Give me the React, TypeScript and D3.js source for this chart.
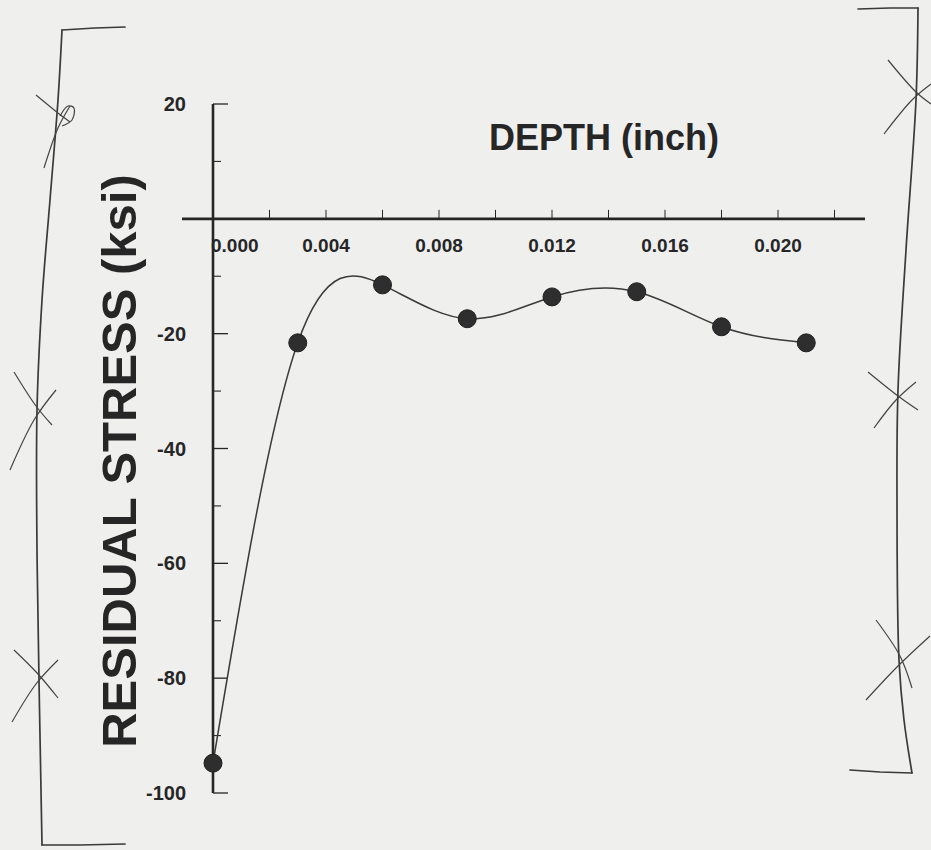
import React from 'react';
import * as d3 from 'd3';

// ---- data ----
const depths = [0.0, 0.003, 0.006, 0.009, 0.012, 0.015, 0.018, 0.021];
const stresses = [-94.8, -21.6, -11.5, -17.4, -13.6, -12.7, -18.8, -21.6];
const xTickValues = [0.0, 0.004, 0.008, 0.012, 0.016, 0.02];
const xTickLabels = ['0.000', '0.004', '0.008', '0.012', '0.016', '0.020'];
const xMinorTickValues = [0.002, 0.004, 0.006, 0.008, 0.01, 0.012, 0.014, 0.016, 0.018, 0.02, 0.022];
const yTickValues = [20, -20, -40, -60, -80, -100];
const yTickLabels = ['20', '-20', '-40', '-60', '-80', '-100'];
const yMinorTickValues = [10, -10, -30, -50, -70, -90];
const xTitle = 'DEPTH (inch)';
const yTitle = 'RESIDUAL STRESS (ksi)';

const W = 931;
const H = 850;
const ink = '#262626';
const font = '"Liberation Sans", Arial, Helvetica, sans-serif';

// hand-drawn bracket decorations (annotation, not data)
const leftBracketTop: [number, number][] = [[125, 27], [95, 28], [62, 30]];
const leftBracketSide: [number, number][] = [[62, 30], [58, 100], [50, 200], [42, 300], [37, 410], [37, 550], [39, 680], [41, 790], [42, 845]];
const leftBracketBottom: [number, number][] = [[42, 845], [80, 845], [125, 844]];
const rightBracketTop: [number, number][] = [[858, 9], [890, 8], [918, 8]];
const rightBracketSide: [number, number][] = [[918, 8], [916, 100], [906, 250], [898, 390], [897, 500], [899, 660], [904, 720], [912, 773]];
const rightBracketBottom: [number, number][] = [[912, 773], [880, 772], [850, 770]];
const crossStrokes: [number, number][][] = [
  [[36, 95], [58, 113], [70, 122]],
  [[44, 168], [58, 128], [70, 106]],
  [[60, 116], [68, 106], [74, 108], [72, 120], [62, 126]],
  [[14, 372], [36, 406], [52, 425]],
  [[10, 470], [34, 420], [56, 390]],
  [[14, 650], [38, 674], [58, 698]],
  [[12, 722], [36, 684], [58, 660]],
  [[888, 60], [916, 92], [931, 104]],
  [[884, 134], [912, 100], [931, 84]],
  [[868, 372], [898, 396], [918, 410]],
  [[874, 428], [896, 400], [916, 382]],
  [[876, 620], [900, 656], [912, 688]],
  [[866, 700], [898, 666], [930, 636]],
];

export default function App() {
  const x = d3.scaleLinear().domain([0, 0.02]).range([213, 778]);
  const y = d3.scaleLinear().domain([-100, 20]).range([793, 104]);

  const pts: [number, number][] = depths.map((d, i) => [x(d), y(stresses[i])]);
  const curve = d3.line().curve(d3.curveNatural)(pts) || '';
  const hand = d3.line().curve(d3.curveCatmullRom.alpha(0.5));
  const straight = d3.line();

  const x0 = x(0);
  const yAxisY0 = y(0);

  const bracketPaths = [
    straight(leftBracketTop),
    hand(leftBracketSide),
    straight(leftBracketBottom),
    straight(rightBracketTop),
    hand(rightBracketSide),
    straight(rightBracketBottom),
  ];

  return (
    <svg
      width={W}
      height={H}
      viewBox={`0 0 ${W} ${H}`}
      style={{ position: 'absolute', left: 0, top: 0, display: 'block' }}
    >
      <rect x={0} y={0} width={W} height={H} fill="#efefee" />

      {/* brackets */}
      {bracketPaths.map((d, i) => (
        <path key={i} d={d || ''} fill="none" stroke="#3a3a3a" strokeWidth={1.7} strokeLinecap="round" />
      ))}
      {crossStrokes.map((s, i) => (
        <path key={i} d={hand(s) || ''} fill="none" stroke="#444" strokeWidth={1.2} />
      ))}

      {/* x axis */}
      <line x1={182} x2={865} y1={yAxisY0} y2={yAxisY0} stroke={ink} strokeWidth={2.6} />
      {xMinorTickValues.map((v) => (
        <line key={v} x1={x(v)} x2={x(v)} y1={yAxisY0} y2={yAxisY0 - 9} stroke={ink} strokeWidth={1} />
      ))}
      {xTickValues.map((v, i) => (
        <text
          key={v}
          x={i === 0 ? x0 - 2 : x(v)}
          y={252}
          textAnchor={i === 0 ? 'start' : 'middle'}
          fontFamily={font}
          fontWeight="bold"
          fontSize={19}
          fill={ink}
        >
          {xTickLabels[i]}
        </text>
      ))}

      {/* y axis */}
      <line x1={x0} x2={x0} y1={y(20)} y2={y(-100)} stroke={ink} strokeWidth={2.6} />
      {yTickValues.map((v) => (
        <line key={v} x1={x0} x2={x0 + 15} y1={y(v)} y2={y(v)} stroke={ink} strokeWidth={1.3} />
      ))}
      {yMinorTickValues.map((v) => (
        <line key={v} x1={x0} x2={x0 + 8} y1={y(v)} y2={y(v)} stroke={ink} strokeWidth={1.1} />
      ))}
      {yTickValues.map((v, i) => (
        <text
          key={v}
          x={186}
          y={y(v) + 7}
          textAnchor="end"
          fontFamily={font}
          fontWeight="bold"
          fontSize={20}
          fill={ink}
        >
          {yTickLabels[i]}
        </text>
      ))}

      {/* titles */}
      <text x={604} y={150} textAnchor="middle" fontFamily={font} fontWeight="bold" fontSize={36} fill={ink}>
        {xTitle}
      </text>
      <text
        transform={`translate(136, 461) rotate(-90)`}
        textAnchor="middle"
        fontFamily={font}
        fontWeight="bold"
        fontSize={49}
        fill={ink}
      >
        {yTitle}
      </text>

      {/* data */}
      <path d={curve} fill="none" stroke="#3a3a3a" strokeWidth={1.5} />
      {pts.map(([px, py], i) => (
        <circle key={i} cx={px} cy={py} r={9} fill="#2e2e2e" stroke="#1e1e1e" strokeWidth={1} />
      ))}
    </svg>
  );
}
